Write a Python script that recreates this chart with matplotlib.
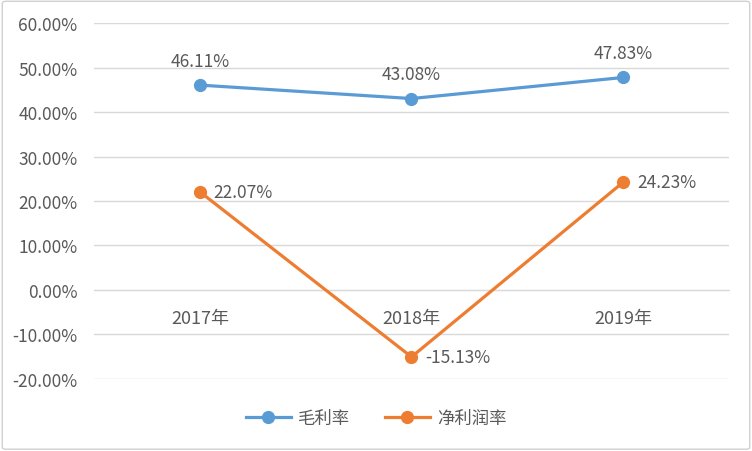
import matplotlib
matplotlib.use('Agg')
import matplotlib.pyplot as plt
from matplotlib.patches import FancyBboxPatch

plt.rcParams['font.family'] = ['Noto Sans CJK SC', 'DejaVu Sans']

# --- data ---
years = ["2017年", "2018年", "2019年"]
gross_margin = [46.11, 43.08, 47.83]
net_margin = [22.07, -15.13, 24.23]
series_names = ["毛利率", "净利润率"]

blue = "#5B9BD5"
orange = "#ED7D31"
text_color = "#595959"
grid_color = "#D9D9D9"

fig = plt.figure(figsize=(7.52, 4.52), dpi=100)
ax = fig.add_axes([0.125, 0.1593, 0.8444, 0.7876])

x = list(range(len(years)))
ax.plot(x, gross_margin, color=blue, linewidth=2.3, marker='o',
        markersize=8.5, label=series_names[0], zorder=3)
ax.plot(x, net_margin, color=orange, linewidth=2.3, marker='o',
        markersize=8.5, label=series_names[1], zorder=3)

# data labels
for xi, v in zip(x, gross_margin):
    ax.annotate(f"{v:.2f}%", (xi, v), xytext=(0, 11), textcoords='offset points',
                ha='center', va='bottom', fontsize=12.5, color=text_color)
for xi, v in zip(x, net_margin):
    ax.annotate(f"{v:.2f}%", (xi, v), xytext=(10, 0), textcoords='offset points',
                ha='left', va='center', fontsize=12.5, color=text_color)

ax.set_xlim(-0.5, len(years) - 0.5)
ax.set_ylim(-20.1, 60.1)
ax.set_yticks(range(-20, 61, 10))
ax.set_yticklabels([f"{t:.2f}%" for t in range(-20, 61, 10)])
ax.yaxis.grid(True, color=grid_color, linewidth=1)
ax.set_axisbelow(True)

ax.set_xticks(x)
ax.set_xticklabels(years)
ax.spines['bottom'].set_position(('data', 0))
ax.spines['bottom'].set_color(grid_color)
for s in ['top', 'right', 'left']:
    ax.spines[s].set_visible(False)
ax.tick_params(axis='x', length=0, pad=14, labelsize=13, labelcolor=text_color)
ax.tick_params(axis='y', length=0, pad=12, labelsize=12.5, labelcolor=text_color)

fig.legend(loc='center', bbox_to_anchor=(0.5, 0.072), ncol=2, frameon=False,
           fontsize=12.5, labelcolor=text_color, handlelength=2.6,
           columnspacing=2.0, handletextpad=0.4)

# outer border
border = FancyBboxPatch((0.003, 0.004), 0.994, 0.991, boxstyle="round,pad=0,rounding_size=0.005",
                        transform=fig.transFigure, fill=False, edgecolor="#D0D0D0",
                        linewidth=1)
fig.patches.append(border)

fig.savefig("out.png", dpi=100)
